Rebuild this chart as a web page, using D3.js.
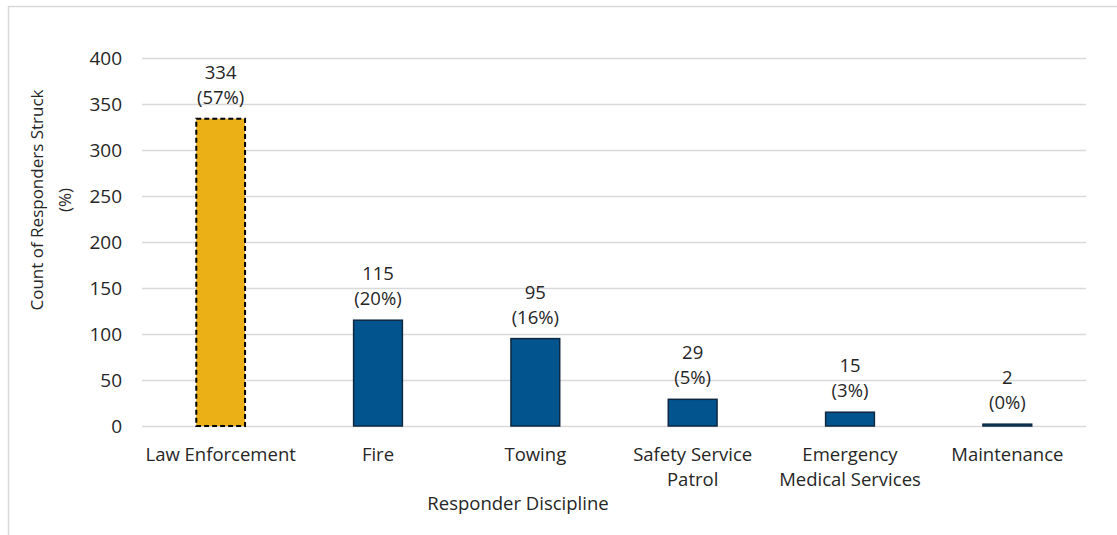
<!DOCTYPE html>
<html>
<head>
<meta charset="utf-8">
<script src="https://cdn.jsdelivr.net/npm/d3@7"></script>
<style>
  html, body { margin: 0; padding: 0; background: #fff; }
  svg { display: block; }
  text { font-family: "Open Sans", "Noto Sans", sans-serif; fill: #262626; }
</style>
</head>
<body>
<svg id="chart" width="1117" height="535"></svg>
<script>
// Responders struck, by discipline
const categories = [
  ["Law Enforcement"],
  ["Fire"],
  ["Towing"],
  ["Safety Service", "Patrol"],
  ["Emergency", "Medical Services"],
  ["Maintenance"]
];
const counts = [334, 115, 95, 29, 15, 2];
const percents = ["57%", "20%", "16%", "5%", "3%", "0%"];
const yTicks = [0, 50, 100, 150, 200, 250, 300, 350, 400];
const highlighted = [true, false, false, false, false, false];

const svg = d3.select("#chart");
const W = 1117, H = 535;
const plot = { left: 142, right: 1086, top: 58, bottom: 426 };
const fontSize = 18.5;

// chart frame (top and left edges visible)
svg.append("path")
  .attr("d", `M8.5,${H} V6.5 H${W}`)
  .attr("fill", "none")
  .attr("stroke", "#d9d9d9")
  .attr("stroke-width", 1.5);

const keys = categories.map((c, i) => i);
const x = d3.scaleBand().domain(keys).range([plot.left, plot.right]).paddingInner(0.69).paddingOuter(0.345);
const y = d3.scaleLinear().domain([0, 400]).range([plot.bottom, plot.top]);

// horizontal gridlines + tick labels
const yAxis = d3.axisLeft(y).tickValues(yTicks).tickSize(-(plot.right - plot.left)).tickPadding(20);
const gy = svg.append("g").attr("transform", `translate(${plot.left},0)`).call(yAxis);
gy.select(".domain").remove();
gy.selectAll(".tick line").attr("stroke", "#d9d9d9").attr("stroke-width", 1.3);
gy.selectAll(".tick text")
  .attr("font-size", 19)
  .attr("font-family", "'Open Sans', 'Noto Sans', sans-serif")
  .attr("fill", "#262626");

// bars
const bars = svg.append("g");
bars.selectAll("rect")
  .data(counts)
  .join("rect")
  .attr("x", (d, i) => x(i))
  .attr("y", d => y(d))
  .attr("width", x.bandwidth())
  .attr("height", d => y(0) - y(d))
  .attr("fill", (d, i) => highlighted[i] ? "#ebb015" : "#02548f")
  .attr("stroke", (d, i) => highlighted[i] ? "#000" : "#0e2841")
  .attr("stroke-width", (d, i) => highlighted[i] ? 2 : 1.5)
  .attr("stroke-dasharray", (d, i) => highlighted[i] ? "5,3" : null);

// value labels: count over (percent)
const labels = svg.append("g").attr("text-anchor", "middle").attr("font-size", fontSize);
counts.forEach((d, i) => {
  const cx = x(i) + x.bandwidth() / 2;
  labels.append("text").attr("x", cx).attr("y", y(d) - 40).text(d);
  labels.append("text").attr("x", cx).attr("y", y(d) - 15).text(`(${percents[i]})`);
});

// category labels
const xl = svg.append("g").attr("text-anchor", "middle").attr("font-size", fontSize);
categories.forEach((lines, i) => {
  const cx = x(i) + x.bandwidth() / 2;
  lines.forEach((t, j) => {
    xl.append("text").attr("x", cx).attr("y", 461 + j * 25).text(t);
  });
});

// axis titles
svg.append("text")
  .attr("x", 518).attr("y", 510)
  .attr("text-anchor", "middle").attr("font-size", fontSize)
  .text("Responder Discipline");

const yt = svg.append("text")
  .attr("transform", "translate(43,200) rotate(-90)")
  .attr("text-anchor", "middle").attr("font-size", 17);
yt.append("tspan").attr("x", 0).attr("y", 0).text("Count of Responders Struck");
yt.append("tspan").attr("x", 0).attr("y", 28).text("(%)");
</script>
</body>
</html>
